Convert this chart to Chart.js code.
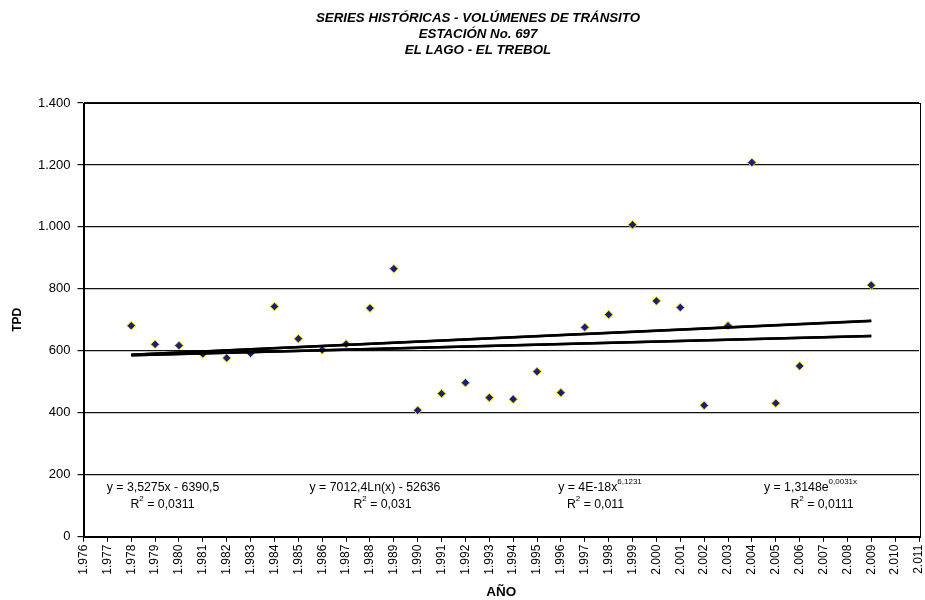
<!DOCTYPE html>
<html>
<head>
<meta charset="utf-8">
<script src="https://cdn.jsdelivr.net/npm/chart.js@4/dist/chart.umd.min.js"></script>
<style>
html,body{margin:0;padding:0;background:#fff;}
#c{display:block;}
</style>
</head>
<body>
<canvas id="c" width="925" height="600"></canvas>
<script>
// ---- data ----
const years = [1978,1979,1980,1981,1982,1983,1984,1985,1986,1987,1988,1989,1990,1991,1992,1993,1994,1995,1996,1997,1998,1999,2000,2001,2002,2003,2004,2005,2006,2009];
const tpd   = [681,621,617,590,577,592,743,639,603,622,738,865,408,462,497,449,444,533,465,676,717,1007,761,740,424,681,1208,431,551,812];

const trendYears  = [1978, 2009];
const linearTrend = [587, 697];
const logTrend    = [587, 696];
const powerTrend  = [586, 648];
const expTrend    = [586, 648];

const titleLines = ['SERIES HISTÓRICAS - VOLÚMENES DE TRÁNSITO', 'ESTACIÓN No. 697', 'EL LAGO - EL TREBOL'];
const xTitle = 'AÑO';
const yTitle = 'TPD';

const equations = [
  { l1: [{t:'y = 3,5275x - 6390,5'}], l2: [{t:'R'},{t:'2',sup:true},{t:' = 0,0311'}] },
  { l1: [{t:'y = 7012,4Ln(x) - 52636'}], l2: [{t:'R'},{t:'2',sup:true},{t:' = 0,031'}] },
  { l1: [{t:'y = 4E-18x'},{t:'6,1231',sup:true}], l2: [{t:'R'},{t:'2',sup:true},{t:' = 0,011'}] },
  { l1: [{t:'y = 1,3148e'},{t:'0,0031x',sup:true}], l2: [{t:'R'},{t:'2',sup:true},{t:' = 0,0111'}] }
];

const FONT = '"Liberation Sans", Arial, sans-serif';
const fmtThousands = v => String(v).replace(/(\d)(\d{3})$/, '$1.$2');

function toPts(xs, ys){ return xs.map((x,i)=>({x:x, y:ys[i]})); }

function drawRich(ctx, parts, cx, cy, size){
  const base = size + 'px ' + FONT;
  const sup = Math.round(size*0.65) + 'px ' + FONT;
  let w = 0;
  parts.forEach(p => { ctx.font = p.sup ? sup : base; w += ctx.measureText(p.t).width; });
  let x = cx - w/2;
  ctx.textAlign = 'left';
  ctx.textBaseline = 'middle';
  parts.forEach(p => {
    ctx.font = p.sup ? sup : base;
    ctx.fillText(p.t, x, p.sup ? cy - size*0.45 : cy);
    x += ctx.measureText(p.t).width;
  });
}

const decorPlugin = {
  id: 'decor',
  beforeDatasetsDraw(chart){
    const {ctx, chartArea:a} = chart;
    ctx.save();
    ctx.strokeStyle = '#000';
    ctx.lineWidth = 1;
    ctx.strokeRect(Math.round(a.left)+0.5, Math.round(a.top)+0.5, Math.round(a.right-a.left), Math.round(a.bottom-a.top));
    ctx.restore();
  },
  afterDraw(chart){
    const ctx = chart.ctx;
    ctx.save();
    ctx.fillStyle = '#000';
    // title
    ctx.font = 'italic bold 13.3px ' + FONT;
    ctx.textAlign = 'center';
    ctx.textBaseline = 'middle';
    const ty = [18.5, 34, 50];
    titleLines.forEach((t,i)=> ctx.fillText(t, 478, ty[i]));
    // equations
    const cx1 = [163, 375, 600, 810.5];
    const cx2 = [162.5, 382.5, 595.5, 822];
    equations.forEach((e,i)=>{
      drawRich(ctx, e.l1, cx1[i], 487.5, 12.3);
      drawRich(ctx, e.l2, cx2[i], 504.5, 12.3);
    });
    ctx.restore();
  }
};

const trendStyle = { showLine:true, borderColor:'#000', borderWidth:2.5, pointRadius:0, fill:false, tension:0 };

new Chart(document.getElementById('c'), {
  type: 'scatter',
  data: {
    datasets: [
      Object.assign({ label:'Lineal', data: toPts(trendYears, linearTrend) }, trendStyle),
      Object.assign({ label:'Logarítmica', data: toPts(trendYears, logTrend) }, trendStyle),
      Object.assign({ label:'Potencial', data: toPts(trendYears, powerTrend) }, trendStyle),
      Object.assign({ label:'Exponencial', data: toPts(trendYears, expTrend) }, trendStyle),
      {
        label: 'TPD',
        data: toPts(years, tpd),
        pointStyle: 'rectRot',
        pointRadius: 4.3,
        pointHoverRadius: 4.3,
        backgroundColor: '#1e1e78',
        borderColor: '#f2e200',
        borderWidth: 1,
        showLine: false
      }
    ]
  },
  options: {
    responsive: false,
    animation: false,
    devicePixelRatio: 1,
    layout: { padding: { left: 0, right: 6, top: 103, bottom: 0 } },
    plugins: { legend: { display:false }, tooltip: { enabled:false }, title: { display:false } },
    scales: {
      x: {
        type: 'linear',
        min: 1976, max: 2011,
        afterFit(s){ s.height = 63.3; s.paddingLeft = 0; s.paddingRight = 0; },
        afterBuildTicks(s){ const t=[]; for(let v=1976; v<=2011; v++) t.push({value:v}); s.ticks = t; },
        ticks: {
          stepSize: 1,
          autoSkip: false,
          minRotation: 90, maxRotation: 90,
          padding: 3,
          color: '#000',
          font: { family: FONT, size: 12 },
          callback: v => fmtThousands(v)
        },
        grid: { drawOnChartArea:false, drawTicks:true, tickLength:5, color:'#000', lineWidth:1 },
        border: { display:true, color:'#000', width:1 },
        title: { display:true, text:xTitle, color:'#000', font:{ family:FONT, size:13.5, weight:'bold' }, padding:{ top:0, bottom:0 } }
      },
      y: {
        min: 0, max: 1400,
        afterFit(s){ s.width = 83.5; s.paddingTop = 0; s.paddingBottom = 0; },
        ticks: {
          stepSize: 200,
          padding: 7,
          color: '#000',
          font: { family: FONT, size: 13 },
          callback: v => fmtThousands(v)
        },
        grid: { color:'#111', lineWidth:1.2, drawTicks:true, tickLength:6 },
        border: { display:true, color:'#000', width:1 },
        title: { display:true, text:yTitle, color:'#000', font:{ family:FONT, size:12, weight:'bold' }, padding:{ top:10, bottom:0 } }
      }
    }
  },
  plugins: [decorPlugin]
});
</script>
</body>
</html>
